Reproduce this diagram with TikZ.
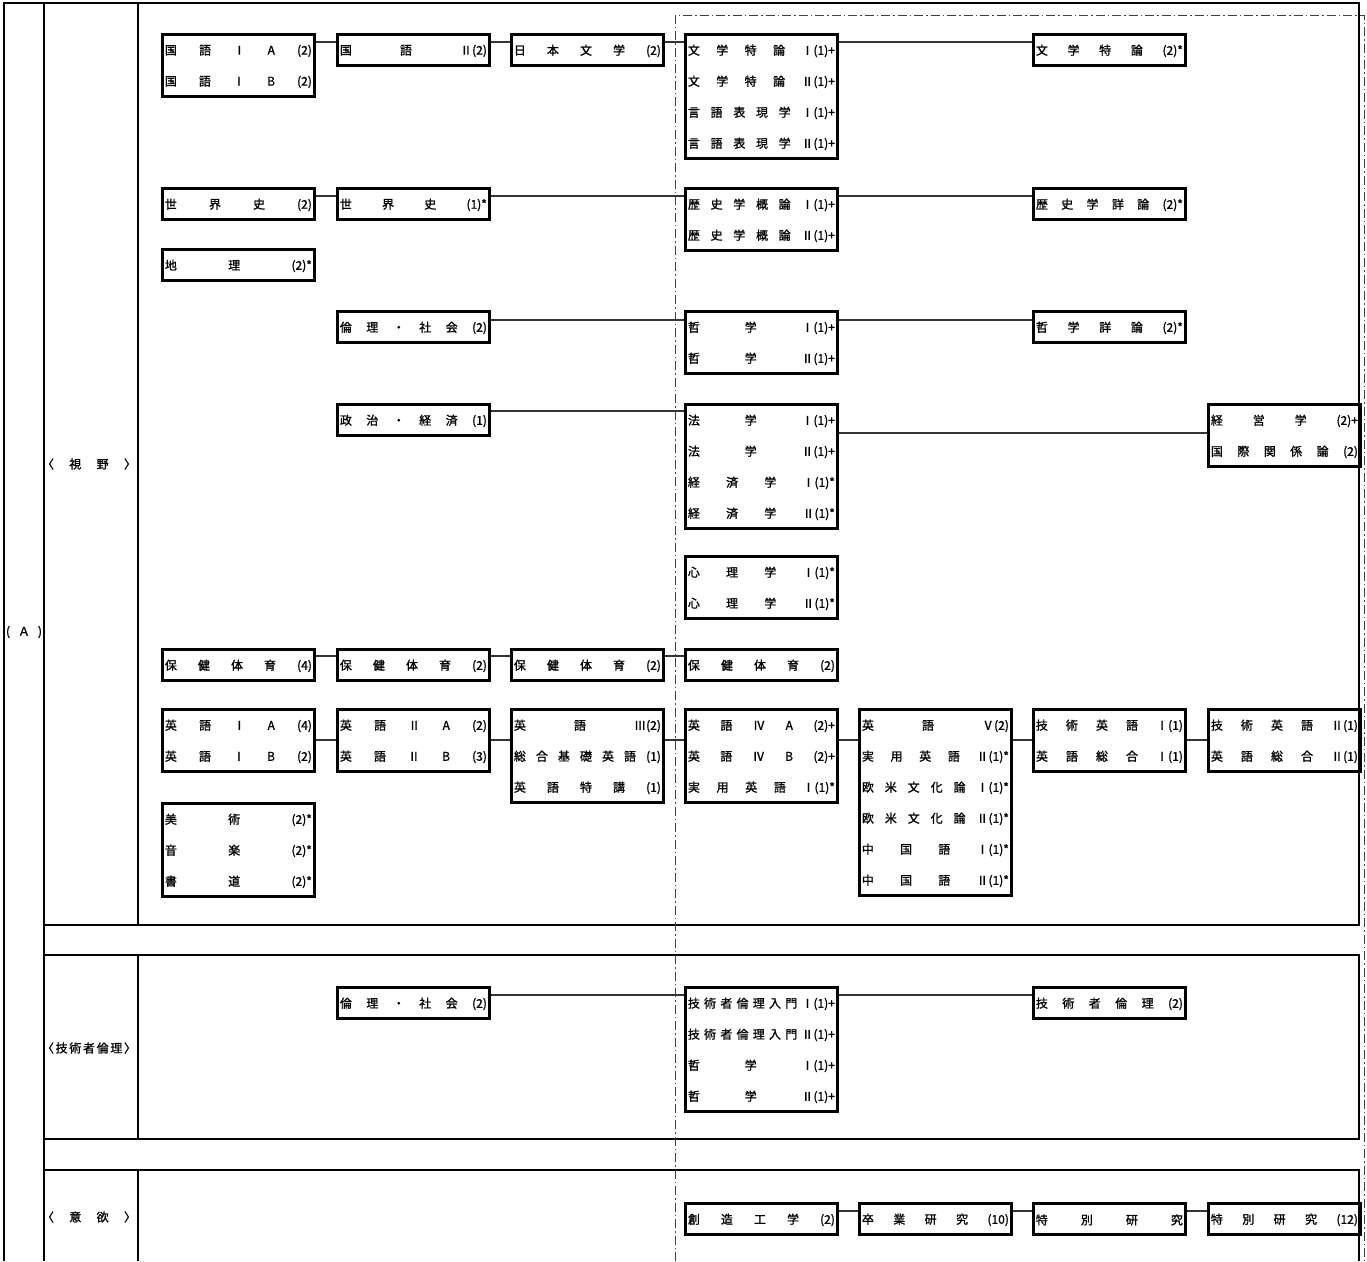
\documentclass[tikz,border=0pt]{standalone}
\usepackage{fontspec}
\setmainfont{Noto Sans CJK JP}[RawFeature={embolden=1.2}]
\usetikzlibrary{positioning}

% one line of a subject box, items spread over the width
\makeatletter
\def\jl@a#1 #2\@nil{#1\ifx\relax#2\relax\else\hfill\jl@a#2\@nil\fi}
\newcommand\jlw[2]{\hbox to #1{\jl@a#2 \@nil}}
\makeatother
\newcommand\subjline[1]{\jlw{147pt}{#1}}
\newcommand\subjbox[1]{\vbox{\kern2pt\baselineskip=31pt #1}}

\begin{document}
\begin{tikzpicture}[
    x=1pt, y=-1pt,
    every node/.style={font=\fontsize{12}{14}\selectfont},
    subj/.style={draw, line width=2.8pt, anchor=north west,
        minimum width=152pt, minimum height=31pt*#1,
        inner xsep=2.5pt, inner ysep=0pt},
    subj/.default=1,
    link/.style={line width=1.9pt, draw=black!80},
    frame/.style={line width=2.4pt},
    dashdot/.style={line width=0.9pt, draw=black!75,
        dash pattern=on 9pt off 3pt on 1.5pt off 3pt},
    cat/.style={inner sep=0pt}
]
\useasboundingbox (0,0) rectangle (1367,1261);

%---------------- Frame ----------------%
\draw[frame] (4,1261) -- (4,3) -- (1359,3) -- (1359,925) -- (44,925);
\draw[frame] (44,3) -- (44,1261);
\draw[frame] (138,3) -- (138,925);
\draw[frame] (44,955) -- (1359,955) -- (1359,1139) -- (44,1139);
\draw[frame] (138,955) -- (138,1139);
\draw[frame] (44,1170) -- (1359,1170) -- (1359,1261);
\draw[frame] (138,1170) -- (138,1261);

% upper years
\draw[dashdot] (675,1261) -- (675,15) -- (1364,15) -- (1364,1261);

%---------------- Category labels ----------------%
\node[cat] (catA) at (24,632) {\jlw{36pt}{( Ａ )}};
\node[cat] (catview) at (89,464) {\jlw{94pt}{〈 視 野 〉}};
\node[cat] (catethics) at (89,1048) {\jlw{94pt}{〈 技 術 者 倫 理 〉}};
\node[cat] (catwill) at (89,1217) {\jlw{94pt}{〈 意 欲 〉}};

%================ Japanese / literature =================%
\node[subj=2] (kokugoI) at (161,33) {\subjbox{\subjline{国 語 Ⅰ A (2)}\subjline{国 語 Ⅰ B (2)}}};
\node[subj] (kokugoII) at (336,33) {\subjbox{\subjline{国 語 Ⅱ(2)}}};
\node[subj] (nihonbun) at (510,33) {\subjbox{\subjline{日 本 文 学 (2)}}};
\node[subj=4] (bungaku) at (684,33) {\subjbox{\subjline{文 学 特 論 Ⅰ(1)+}\subjline{文 学 特 論 Ⅱ(1)+}\subjline{言 語 表 現 学 Ⅰ(1)+}\subjline{言 語 表 現 学 Ⅱ(1)+}}};
\node[subj] (bunron) at (1032,33) {\subjbox{\subjline{文 学 特 論 (2)*}}};

%================ History / geography =================%
\node[subj] (sekaiA) at (161,187) {\subjbox{\subjline{世 界 史 (2)}}};
\node[subj] (sekaiB) at (336,187) {\subjbox{\subjline{世 界 史 (1)*}}};
\node[subj=2] (rekishi) at (684,187) {\subjbox{\subjline{歴 史 学 概 論 Ⅰ(1)+}\subjline{歴 史 学 概 論 Ⅱ(1)+}}};
\node[subj] (rekishou) at (1032,187) {\subjbox{\subjline{歴 史 学 詳 論 (2)*}}};
\node[subj] (chiri) at (161,248) {\subjbox{\subjline{地 理 (2)*}}};

%================ Philosophy / law =================%
\node[subj] (rinriA) at (336,310) {\subjbox{\subjline{倫 理 ・ 社 会 (2)}}};
\node[subj=2] (tetsu) at (684,310) {\subjbox{\subjline{哲 学 Ⅰ(1)+}\subjline{哲 学 Ⅱ(1)+}}};
\node[subj] (tetsushou) at (1032,310) {\subjbox{\subjline{哲 学 詳 論 (2)*}}};
\node[subj] (seikei) at (336,403) {\subjbox{\subjline{政 治 ・ 経 済 (1)}}};
\node[subj=4] (hougaku) at (684,403) {\subjbox{\subjline{法 学 Ⅰ(1)+}\subjline{法 学 Ⅱ(1)+}\subjline{経 済 学 Ⅰ(1)*}\subjline{経 済 学 Ⅱ(1)*}}};
\node[subj=2] (keiei) at (1207,403) {\subjbox{\subjline{経 営 学 (2)+}\subjline{国 際 関 係 論 (2)}}};
\node[subj=2] (shinri) at (684,555) {\subjbox{\subjline{心 理 学 Ⅰ(1)*}\subjline{心 理 学 Ⅱ(1)*}}};

%================ Health =================%
\node[subj] (hokenA) at (161,648) {\subjbox{\subjline{保 健 体 育 (4)}}};
\node[subj] (hokenB) at (336,648) {\subjbox{\subjline{保 健 体 育 (2)}}};
\node[subj] (hokenC) at (510,648) {\subjbox{\subjline{保 健 体 育 (2)}}};
\node[subj] (hokenD) at (684,648) {\subjbox{\subjline{保 健 体 育 (2)}}};

%================ English / arts =================%
\node[subj=2] (eigoI) at (161,708) {\subjbox{\subjline{英 語 Ⅰ A (4)}\subjline{英 語 Ⅰ B (2)}}};
\node[subj=2] (eigoII) at (336,708) {\subjbox{\subjline{英 語 Ⅱ A (2)}\subjline{英 語 Ⅱ B (3)}}};
\node[subj=3] (eigoIII) at (510,708) {\subjbox{\subjline{英 語 Ⅲ(2)}\subjline{総 合 基 礎 英 語 (1)}\subjline{英 語 特 講 (1)}}};
\node[subj=3] (eigoIV) at (684,708) {\subjbox{\subjline{英 語 Ⅳ A (2)+}\subjline{英 語 Ⅳ B (2)+}\subjline{実 用 英 語 Ⅰ(1)*}}};
\node[subj=6] (eigoV) at (858,708) {\subjbox{\subjline{英 語 Ⅴ(2)}\subjline{実 用 英 語 Ⅱ(1)*}\subjline{欧 米 文 化 論 Ⅰ(1)*}\subjline{欧 米 文 化 論 Ⅱ(1)*}\subjline{中 国 語 Ⅰ(1)*}\subjline{中 国 語 Ⅱ(1)*}}};
\node[subj=2] (gieigoI) at (1032,708) {\subjbox{\subjline{技 術 英 語 Ⅰ(1)}\subjline{英 語 総 合 Ⅰ(1)}}};
\node[subj=2] (gieigoII) at (1207,708) {\subjbox{\subjline{技 術 英 語 Ⅱ(1)}\subjline{英 語 総 合 Ⅱ(1)}}};
\node[subj=3] (geijutsu) at (161,802) {\subjbox{\subjline{美 術 (2)*}\subjline{音 楽 (2)*}\subjline{書 道 (2)*}}};

%================ Engineering ethics =================%
\node[subj] (rinriB) at (336,986) {\subjbox{\subjline{倫 理 ・ 社 会 (2)}}};
\node[subj=4] (gijinyu) at (684,986) {\subjbox{\subjline{技 術 者 倫 理 入 門 Ⅰ(1)+}\subjline{技 術 者 倫 理 入 門 Ⅱ(1)+}\subjline{哲 学 Ⅰ(1)+}\subjline{哲 学 Ⅱ(1)+}}};
\node[subj] (gijirin) at (1032,986) {\subjbox{\subjline{技 術 者 倫 理 (2)}}};

%================ Motivation =================%
\node[subj] (souzou) at (684,1202) {\subjbox{\subjline{創 造 工 学 (2)}}};
\node[subj] (sotsuken) at (858,1202) {\subjbox{\subjline{卒 業 研 究 (10)}}};
\node[subj] (tokuA) at (1032,1202) {\subjbox{\subjline{特 別 研 究}}};
\node[subj] (tokuB) at (1207,1202) {\subjbox{\subjline{特 別 研 究 (12)}}};

%================ Links =================%
\draw[link] ([yshift=-9pt]kokugoI.north east) -- ([yshift=-9pt]kokugoII.north west);
\draw[link] ([yshift=-9pt]kokugoII.north east) -- ([yshift=-9pt]nihonbun.north west);
\draw[link] ([yshift=-9pt]nihonbun.north east) -- ([yshift=-9pt]bungaku.north west);
\draw[link] ([yshift=-9pt]bungaku.north east) -- ([yshift=-9pt]bunron.north west);

\draw[link] ([yshift=-9pt]sekaiA.north east) -- ([yshift=-9pt]sekaiB.north west);
\draw[link] ([yshift=-9pt]sekaiB.north east) -- ([yshift=-9pt]rekishi.north west);
\draw[link] ([yshift=-9pt]rekishi.north east) -- ([yshift=-9pt]rekishou.north west);

\draw[link] ([yshift=-10pt]rinriA.north east) -- ([yshift=-10pt]tetsu.north west);
\draw[link] ([yshift=-10pt]tetsu.north east) -- ([yshift=-10pt]tetsushou.north west);
\draw[link] ([yshift=-8pt]seikei.north east) -- ([yshift=-8pt]hougaku.north west);
\draw[link] ([yshift=-30pt]hougaku.north east) -- ([yshift=-30pt]keiei.north west);

\draw[link] ([yshift=-8pt]hokenA.north east) -- ([yshift=-8pt]hokenB.north west);
\draw[link] ([yshift=-8pt]hokenB.north east) -- ([yshift=-8pt]hokenC.north west);
\draw[link] ([yshift=-8pt]hokenC.north east) -- ([yshift=-8pt]hokenD.north west);

\draw[link] ([yshift=-32pt]eigoI.north east) -- ([yshift=-32pt]eigoII.north west);
\draw[link] ([yshift=-32pt]eigoII.north east) -- ([yshift=-32pt]eigoIII.north west);
\draw[link] ([yshift=-32pt]eigoIII.north east) -- ([yshift=-32pt]eigoIV.north west);
\draw[link] ([yshift=-32pt]eigoIV.north east) -- ([yshift=-32pt]eigoV.north west);
\draw[link] ([yshift=-32pt]eigoV.north east) -- ([yshift=-32pt]gieigoI.north west);
\draw[link] ([yshift=-32pt]gieigoI.north east) -- ([yshift=-32pt]gieigoII.north west);

\draw[link] ([yshift=-9pt]rinriB.north east) -- ([yshift=-9pt]gijinyu.north west);
\draw[link] ([yshift=-9pt]gijinyu.north east) -- ([yshift=-9pt]gijirin.north west);

\draw[link] ([yshift=-9pt]souzou.north east) -- ([yshift=-9pt]sotsuken.north west);
\draw[link] ([yshift=-9pt]sotsuken.north east) -- ([yshift=-9pt]tokuA.north west);
\draw[link] ([yshift=-9pt]tokuA.north east) -- ([yshift=-9pt]tokuB.north west);

\end{tikzpicture}
\end{document}
